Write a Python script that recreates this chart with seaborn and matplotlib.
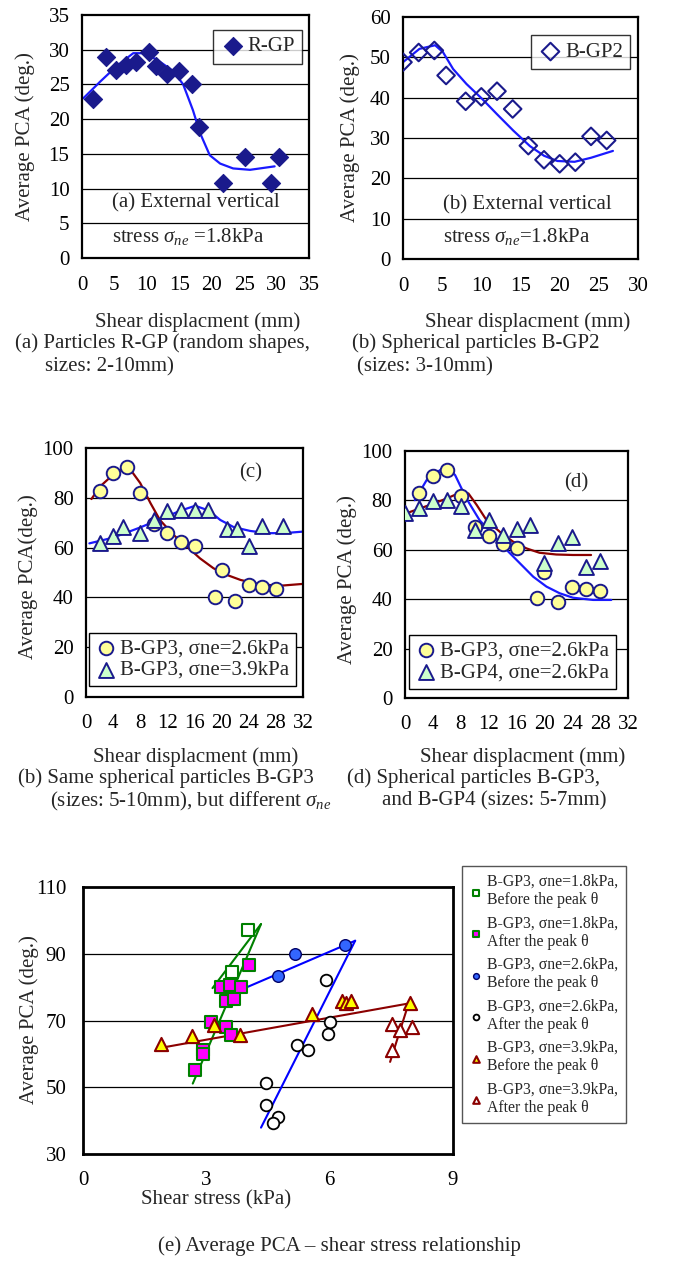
import numpy as np
import pandas as pd
import matplotlib
matplotlib.use("Agg")
import matplotlib.pyplot as plt
import seaborn as sns

# ------------------------------------------------------------------ data
# (a) R-GP
a_x = [1.65, 3.7, 5.2, 6.8, 8.3, 10.3, 11.4, 13.1, 14.9, 16.9, 18.1, 21.7, 25.1, 29.1, 30.4]
a_y = [22.9, 29.0, 27.1, 27.8, 28.2, 29.7, 27.6, 26.5, 27.0, 25.0, 18.8, 10.8, 14.5, 10.8, 14.5]
a_fit_x = [0.2, 2.8, 5.3, 7.9, 9.4, 11.5, 14.1, 15.6, 17.1, 18.2, 19.7, 21.3, 23.3, 25.9, 29.7]
a_fit_y = [23.0, 25.4, 27.6, 29.5, 29.5, 28.6, 26.9, 25.0, 21.3, 18.0, 14.8, 13.6, 12.9, 12.7, 13.2]

# (b) B-GP2
b_x = [0, 2, 4, 5.5, 8, 10, 12, 14, 16, 18, 20, 22, 24, 26]
b_y = [48.8, 51.2, 51.7, 45.5, 39.1, 40.2, 41.6, 37.2, 28.1, 24.6, 23.6, 24.0, 30.4, 29.4]
b_fit_x = [0, 2.1, 4.1, 5.1, 6.4, 8.1, 10.1, 12.0, 14.1, 16.2, 18.0, 19.7, 21.9, 24.0, 26.8]
b_fit_y = [48.8, 52.1, 53.0, 51.3, 47.1, 43.4, 39.7, 35.9, 31.8, 28.0, 25.6, 24.3, 24.1, 25.1, 26.8]

# B-GP3, sigma_ne = 2.6 kPa (used in c and d)
gp3_26_x = [2, 4, 6, 8, 10, 12, 14, 16, 19, 20, 22, 24, 26, 28]
gp3_26_y = [82.8, 89.8, 92.2, 81.8, 69.3, 65.7, 62.4, 60.7, 40.3, 51.2, 38.7, 45.0, 44.0, 43.4]
# B-GP3, sigma_ne = 3.9 kPa (c)
gp3_39_x = [2, 4, 5.5, 8, 10, 12, 14, 16, 18, 20.8, 22.2, 24, 26, 29]
gp3_39_y = [62.0, 64.7, 68.1, 65.8, 70.9, 74.5, 75.2, 74.9, 74.9, 67.4, 67.4, 60.7, 68.5, 68.5]
c_fit26_x = [0.8, 2.1, 4.0, 5.5, 6.5, 8.0, 9.5, 10.9, 12.9, 14.9, 16.8, 18.8, 20.8, 22.8, 25.7, 28.7, 31.9]
c_fit26_y = [79.5, 84.6, 89.3, 91.9, 91.5, 85.9, 77.9, 71.1, 65.1, 60.4, 55.7, 51.7, 49.0, 47.0, 45.2, 44.7, 45.4]
c_fit39_x = [0.5, 4.0, 8.0, 11.9, 13.9, 16.1, 18.1, 19.8, 21.8, 24.2, 26.7, 29.2, 31.9]
c_fit39_y = [61.7, 64.0, 68.1, 72.5, 74.8, 76.8, 74.9, 71.1, 68.2, 66.7, 65.8, 65.8, 66.4]

# B-GP4, sigma_ne = 2.6 kPa (d)
gp4_x = [0, 2, 4, 6, 8, 10, 12, 14, 16, 18, 20, 22, 24, 26, 28]
gp4_y = [75.0, 77.1, 79.7, 80.1, 77.7, 68.2, 72.0, 65.9, 68.6, 70.0, 54.8, 62.9, 65.0, 53.2, 55.6]
d_fit3_x = [1.4, 3.1, 5.0, 6.1, 7.2, 8.8, 10.7, 12.7, 14.6, 16.5, 18.4, 20.3, 22.2, 24.1, 27.0, 29.6]
d_fit3_y = [80.1, 88.2, 92.2, 93.6, 90.2, 80.8, 72.0, 65.9, 59.9, 54.5, 49.1, 45.1, 42.4, 40.6, 39.7, 39.7]
d_fit4_x = [0.1, 2.1, 4.1, 6.0, 8.1, 9.1, 10.3, 11.7, 13.6, 15.5, 17.4, 19.3, 21.7, 24.1, 26.7]
d_fit4_y = [74.7, 76.7, 78.7, 80.8, 83.4, 82.8, 78.1, 72.0, 67.3, 63.3, 60.6, 58.8, 58.1, 57.9, 57.9]

# (e) PCA vs shear stress
e18_before_x = [4.02, 3.63]
e18_before_y = [97.2, 84.4]
e18_after_x = [3.35, 3.58, 3.85, 4.03, 3.49, 3.67, 3.12, 3.49, 3.60, 2.91, 2.91, 2.73]
e18_after_y = [80.0, 80.6, 80.0, 86.6, 75.8, 76.3, 69.5, 68.0, 65.8, 61.3, 60.1, 55.2]
e26_before_x = [4.75, 5.16, 6.38]
e26_before_y = [83.2, 89.9, 92.7]
e26_after_x = [5.91, 6.01, 5.96, 5.20, 5.47, 4.44, 4.44, 4.75, 4.61]
e26_after_y = [82.2, 69.5, 66.1, 62.8, 61.2, 51.4, 44.7, 41.0, 39.3]
e39_before_x = [1.89, 2.66, 3.19, 3.83, 5.57, 6.29, 6.40, 6.52, 7.96]
e39_before_y = [63.0, 65.3, 68.6, 65.8, 71.8, 75.8, 75.3, 75.8, 75.1]
e39_after_x = [7.51, 7.70, 8.01, 7.51]
e39_after_y = [69.1, 67.3, 68.0, 61.3]
# fitted lines (end points)
fit18_before_x, fit18_before_y = [3.15, 4.33], [79.7, 98.9]
fit18_after_x, fit18_after_y = [2.67, 4.33], [51.1, 98.9]
fit26_before_x, fit26_before_y = [3.48, 6.62], [77.3, 93.9]
fit26_after_x, fit26_after_y = [4.33, 6.62], [37.9, 93.9]
fit39_before_x, fit39_before_y = [1.89, 7.92], [61.8, 75.1]
fit39_after_x, fit39_after_y = [7.47, 7.92], [57.6, 75.1]

# ------------------------------------------------------------------ style
sns.set_theme(style="white")
plt.rcParams['font.family'] = ['Liberation Serif', 'DejaVu Serif']
plt.rcParams['mathtext.fontset'] = 'custom'
plt.rcParams['mathtext.rm'] = 'Liberation Serif'
plt.rcParams['mathtext.it'] = 'Liberation Serif:italic'
plt.rcParams['axes.unicode_minus'] = False

W, H = 678, 1267
fig = plt.figure(figsize=(W / 100, H / 100), dpi=100)
fig.patch.set_facecolor('white')


def add_ax(l, r, t, b):
    return fig.add_axes([l / W, 1 - b / H, (r - l) / W, (b - t) / H])


def fx(px):
    return px / W


def fy(py):
    return 1 - py / H


FS = 15
NAVY = '#1a1a8c'
BLUE = '#1a1aff'
DRED = '#8b0000'


def style_ax(ax, xlim, xticks, ylim, yticks, grid, xpad=13):
    ax.set_xlim(*xlim)
    ax.set_ylim(*ylim)
    ax.set_xticks(xticks)
    ax.set_yticks(yticks)
    ax.set_xticklabels([str(t) for t in xticks], fontsize=FS)
    ax.set_yticklabels([str(t) for t in yticks], fontsize=FS)
    for g in grid:
        ax.axhline(g, color='black', lw=0.9, zorder=0)
    for s in ax.spines.values():
        s.set_color('black')
        s.set_linewidth(1.6)
        s.set_visible(True)
    ax.tick_params(axis='x', direction='in', length=4, width=1, pad=xpad, colors='black')
    ax.tick_params(axis='y', direction='out', length=4, width=1, pad=5, colors='black')
    ax.set_xlabel('')
    ax.set_ylabel('')
    ax.set_facecolor('white')


# ---------------- (a)
ax = add_ax(82, 309, 15, 258)
sns.lineplot(x=a_fit_x, y=a_fit_y, ax=ax, color=BLUE, lw=1.6, sort=False, zorder=2)
sns.scatterplot(x=a_x, y=a_y, ax=ax, marker='D', s=85, color=NAVY, edgecolor=NAVY,
                linewidth=0.8, label='R-GP', zorder=3)
style_ax(ax, (0, 35), list(range(0, 36, 5)), (0, 35), list(range(0, 36, 5)), range(5, 31, 5))
leg = ax.legend(loc='upper right', bbox_to_anchor=(0.97, 0.94), borderaxespad=0,
                fontsize=FS, frameon=True, fancybox=False, handletextpad=0.1,
                handlelength=1.2, borderpad=0.35)
leg.get_frame().set_edgecolor('black')
leg.get_frame().set_linewidth(1.0)
ax.text(0.13, 0.225, '(a) External vertical', transform=ax.transAxes, fontsize=FS, va='center')
ax.text(0.13, 0.09, r'stress $\sigma_{ne}$ =1.8kPa', transform=ax.transAxes, fontsize=FS, va='center')

# ---------------- (b)
ax = add_ax(403, 638, 17, 259)
sns.lineplot(x=b_fit_x, y=b_fit_y, ax=ax, color=BLUE, lw=1.6, sort=False, zorder=2)
sns.scatterplot(x=b_x, y=b_y, ax=ax, marker='D', s=80, facecolor='none', edgecolor=NAVY,
                linewidth=1.5, label='B-GP2', zorder=3)
style_ax(ax, (0, 30), list(range(0, 31, 5)), (0, 60), list(range(0, 61, 10)), range(10, 51, 10))
leg = ax.legend(loc='upper right', bbox_to_anchor=(0.967, 0.925), borderaxespad=0,
                fontsize=FS, frameon=True, fancybox=False, handletextpad=0.1,
                handlelength=1.2, borderpad=0.35)
leg.get_frame().set_edgecolor('black')
leg.get_frame().set_linewidth(1.0)
ax.text(0.17, 0.225, '(b) External vertical', transform=ax.transAxes, fontsize=FS, va='center')
ax.text(0.17, 0.095, r'stress $\sigma_{ne}$=1.8kPa', transform=ax.transAxes, fontsize=FS, va='center')

# ---------------- (c)
ax = add_ax(86, 303, 448, 697)
sns.lineplot(x=c_fit26_x, y=c_fit26_y, ax=ax, color=DRED, lw=1.6, sort=False, zorder=2)
sns.lineplot(x=c_fit39_x, y=c_fit39_y, ax=ax, color=BLUE, lw=1.6, sort=False, zorder=2)
sns.scatterplot(x=gp3_26_x, y=gp3_26_y, ax=ax, marker='o', s=95, color='#ffff99',
                edgecolor=NAVY, linewidth=1.4, label='B-GP3, σne=2.6kPa', zorder=3)
sns.scatterplot(x=gp3_39_x, y=gp3_39_y, ax=ax, marker='^', s=115, color='#ccffcc',
                edgecolor=NAVY, linewidth=1.4, label='B-GP3, σne=3.9kPa', zorder=3)
style_ax(ax, (0, 32), list(range(0, 33, 4)), (0, 100), list(range(0, 101, 20)), range(20, 81, 20), xpad=12)
leg = ax.legend(loc='lower left', bbox_to_anchor=(0.014, 0.043), borderaxespad=0,
                fontsize=FS, frameon=True, fancybox=False, handletextpad=0.2,
                handlelength=1.0, borderpad=0.3, labelspacing=0.1, framealpha=1)
leg.get_frame().set_edgecolor('black')
leg.get_frame().set_linewidth(1.0)
ax.text(0.76, 0.9, '(c)', transform=ax.transAxes, fontsize=FS, va='center', ha='center')

# ---------------- (d)
ax = add_ax(405, 628, 451, 698)
sns.lineplot(x=d_fit3_x, y=d_fit3_y, ax=ax, color=BLUE, lw=1.6, sort=False, zorder=2)
sns.lineplot(x=d_fit4_x, y=d_fit4_y, ax=ax, color=DRED, lw=1.6, sort=False, zorder=2)
sns.scatterplot(x=gp3_26_x, y=gp3_26_y, ax=ax, marker='o', s=95, color='#ffff99',
                edgecolor=NAVY, linewidth=1.4, label='B-GP3, σne=2.6kPa', zorder=3)
sns.scatterplot(x=gp4_x, y=gp4_y, ax=ax, marker='^', s=115, color='#ccffcc',
                edgecolor=NAVY, linewidth=1.4, label='B-GP4, σne=2.6kPa', zorder=3)
style_ax(ax, (0, 32), list(range(0, 33, 4)), (0, 100), list(range(0, 101, 20)), range(20, 81, 20), xpad=12)
leg = ax.legend(loc='lower left', bbox_to_anchor=(0.018, 0.038), borderaxespad=0,
                fontsize=FS, frameon=True, fancybox=False, handletextpad=0.2,
                handlelength=1.0, borderpad=0.3, labelspacing=0.1, framealpha=1)
leg.get_frame().set_edgecolor('black')
leg.get_frame().set_linewidth(1.0)
ax.text(0.77, 0.87, '(d)', transform=ax.transAxes, fontsize=FS, va='center', ha='center')

# ---------------- (e)
ax = add_ax(83, 453, 887, 1154)
GREEN = '#008000'
for lx, ly, c in [(fit18_before_x, fit18_before_y, GREEN), (fit18_after_x, fit18_after_y, GREEN),
                  (fit26_before_x, fit26_before_y, '#0000ff'), (fit26_after_x, fit26_after_y, '#0000ff'),
                  (fit39_before_x, fit39_before_y, DRED), (fit39_after_x, fit39_after_y, DRED)]:
    sns.lineplot(x=lx, y=ly, ax=ax, color=c, lw=1.5, sort=False, zorder=2)
lab18b = 'B-GP3, σne=1.8kPa,\nBefore the peak θ'
lab18a = 'B-GP3, σne=1.8kPa,\nAfter the peak θ'
lab26b = 'B-GP3, σne=2.6kPa,\nBefore the peak θ'
lab26a = 'B-GP3, σne=2.6kPa,\nAfter the peak θ'
lab39b = 'B-GP3, σne=3.9kPa,\nBefore the peak θ'
lab39a = 'B-GP3, σne=3.9kPa,\nAfter the peak θ'
sns.scatterplot(x=e18_before_x, y=e18_before_y, ax=ax, marker='s', s=65, color='white',
                edgecolor=GREEN, linewidth=1.5, label=lab18b, zorder=3)
sns.scatterplot(x=e18_after_x, y=e18_after_y, ax=ax, marker='s', s=65, color='#ff00ff',
                edgecolor=GREEN, linewidth=1.5, label=lab18a, zorder=3)
sns.scatterplot(x=e26_before_x, y=e26_before_y, ax=ax, marker='o', s=70, color='#3366ff',
                edgecolor='#000066', linewidth=1.0, label=lab26b, zorder=3)
sns.scatterplot(x=e26_after_x, y=e26_after_y, ax=ax, marker='o', s=70, color='white',
                edgecolor='black', linewidth=1.3, label=lab26a, zorder=3)
sns.scatterplot(x=e39_before_x, y=e39_before_y, ax=ax, marker='^', s=90, color='#ffff00',
                edgecolor=DRED, linewidth=1.5, label=lab39b, zorder=3)
sns.scatterplot(x=e39_after_x, y=e39_after_y, ax=ax, marker='^', s=90, color='white',
                edgecolor=DRED, linewidth=1.5, label=lab39a, zorder=3)
style_ax(ax, (0, 9), [0, 3, 6, 9], (30, 110), [30, 50, 70, 90, 110], [50, 70, 90], xpad=12)
for s in ax.spines.values():
    s.set_linewidth(2.0)
ax.tick_params(axis='y', length=0, pad=12)
handles, labels = ax.get_legend_handles_labels()
if ax.get_legend() is not None:
    ax.get_legend().remove()
leg = fig.legend(handles, labels, loc='upper left', bbox_to_anchor=(fx(462), fy(866)),
                 borderaxespad=0,
                 fontsize=11.3, frameon=True, fancybox=False, markerscale=0.5,
                 handletextpad=0.3, handlelength=0.8, borderpad=0.5, labelspacing=0.45,
                 framealpha=1)
leg.get_frame().set_edgecolor('#555555')
leg.get_frame().set_linewidth(1.0)

# ---------------- axis titles & captions
ylab = 'Average PCA (deg.)'
fig.text(fx(25), fy(137), ylab, rotation=90, fontsize=FS, ha='center', va='center')
fig.text(fx(350), fy(138), ylab, rotation=90, fontsize=FS, ha='center', va='center')
fig.text(fx(28), fy(577), 'Average PCA(deg.)', rotation=90, fontsize=FS, ha='center', va='center')
fig.text(fx(347), fy(580), ylab, rotation=90, fontsize=FS, ha='center', va='center')
fig.text(fx(29), fy(1020), ylab, rotation=90, fontsize=FS, ha='center', va='center')

xlab = 'Shear displacment (mm)'
fig.text(fx(198), fy(322), xlab, fontsize=FS, ha='center', va='center')
fig.text(fx(528), fy(322), xlab, fontsize=FS, ha='center', va='center')
fig.text(fx(196), fy(757), xlab, fontsize=FS, ha='center', va='center')
fig.text(fx(523), fy(757), xlab, fontsize=FS, ha='center', va='center')
fig.text(fx(216), fy(1200), 'Shear stress (kPa)', fontsize=FS, ha='center', va='center')

CFS = 15
fig.text(fx(15), fy(343), '(a) Particles R-GP (random shapes,', fontsize=CFS, ha='left', va='center')
fig.text(fx(45), fy(367), 'sizes: 2-10mm)', fontsize=CFS, ha='left', va='center')
fig.text(fx(352), fy(343), '(b) Spherical particles B-GP2', fontsize=CFS, ha='left', va='center')
fig.text(fx(357), fy(367), '(sizes: 3-10mm)', fontsize=CFS, ha='left', va='center')
fig.text(fx(18), fy(778), '(b) Same spherical particles B-GP3', fontsize=CFS, ha='left', va='center')
fig.text(fx(50), fy(801), r'(sizes: 5-10mm), but different $\sigma_{ne}$', fontsize=CFS, ha='left', va='center')
fig.text(fx(347), fy(778), '(d) Spherical particles B-GP3,', fontsize=CFS, ha='left', va='center')
fig.text(fx(382), fy(801), 'and B-GP4 (sizes: 5-7mm)', fontsize=CFS, ha='left', va='center')
fig.text(fx(339), fy(1246), '(e) Average PCA – shear stress relationship', fontsize=CFS, ha='center', va='center')

fig.savefig('out.png', dpi=100, facecolor='white')
